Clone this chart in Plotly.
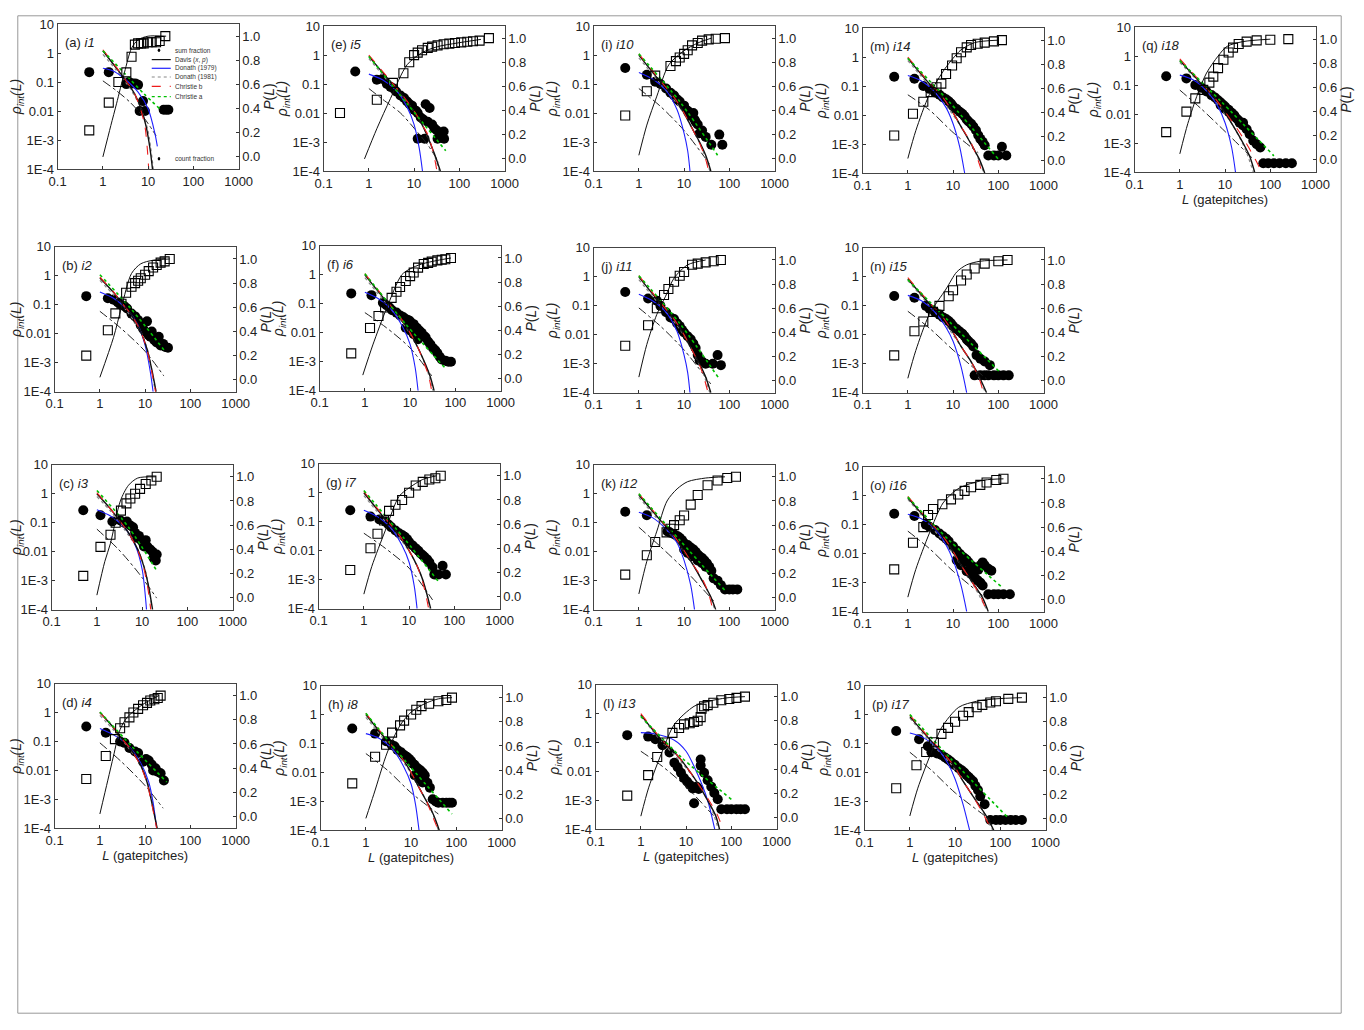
import plotly.graph_objects as go

# page is 1364x1030; the body keeps its default 8px margin, so the figure is 16px smaller
PAGE_W, PAGE_H = 1364, 1030
BODY_MARGIN = 8
FW, FH = PAGE_W - 2 * BODY_MARGIN, PAGE_H - 2 * BODY_MARGIN
# measured relation between page pixels and the photographed picture
SHOT_OX, SHOT_SX = 8.5, 0.983
SHOT_OY, SHOT_SY = 6.0, 0.986

LETTERS = list("abcdefghijklmnopq")
SAMPLES = ["i1", "i2", "i3", "i4", "i5", "i6", "i7", "i8", "i10", "i11", "i12",
           "i13", "i14", "i15", "i16", "i17", "i18"]

X_TICKS = [0.1, 1, 10, 100, 1000]
X_TICKTEXT = ["0.1", "1", "10", "100", "1000"]
Y_TICKS = [1e-4, 1e-3, 0.01, 0.1, 1, 10]
Y_TICKTEXT = ["1E-4", "1E-3", "0.01", "0.1", "1", "10"]
P_TICKS = [0.0, 0.2, 0.4, 0.6, 0.8, 1.0]
P_TICKTEXT = ["0.0", "0.2", "0.4", "0.6", "0.8", "1.0"]

# ---- count fraction (filled circles), left axis ----
COUNT_L = [
    [0.5, 1.35, 3.3, 3.8, 4.5, 5.2, 6, 6.5, 7.7, 8.5, 22, 25, 28],
    [0.5, 1.5, 2, 2.5, 3, 3.5, 4, 5, 6, 7, 8, 9, 10, 11, 12, 13, 14, 16, 18, 20, 22, 25, 28, 32],
    [0.5, 1.2, 2.2, 3.3, 4.0, 4.6, 5.5, 6.3, 7, 7.8, 8.5, 9.5, 10.5, 11, 12, 13, 15, 17, 18, 20, 21],
    [0.5, 1.35, 2.8, 3.5, 4.5, 6, 7, 9, 10.5, 12, 14, 15, 17, 19, 22, 26],
    [0.5, 1.5, 2, 2.5, 3, 3.5, 4, 5, 6, 7, 8, 9, 10, 11, 12, 14, 16, 18, 20, 22, 25, 28, 32, 38, 45, 12, 17, 33, 46],
    [0.5, 1.4, 2.5, 3, 3.5, 4, 5, 6, 7, 8, 9, 10, 11, 12, 13, 14, 16, 18, 20, 22, 25, 28, 32, 36, 40, 45, 50, 60, 70, 80, 8, 10, 12, 15],
    [0.5, 1.4, 2.2, 3, 3.5, 4, 5, 6, 7, 8, 9, 10, 12, 14, 16, 18, 20, 22, 25, 28, 33, 36, 40, 45, 55, 65],
    [0.5, 1.6, 2.8, 3.7, 4.3, 5, 6, 7, 8, 9, 10, 11, 12, 14, 16, 18, 20, 23, 26, 30, 35, 40, 50, 60, 70, 80, 12, 15, 18],
    [0.5, 1.5, 2.3, 3, 4, 5, 6, 7, 8, 10, 12, 14, 16, 18, 20, 22, 25, 30, 40, 60, 70, 13, 17],
    [0.5, 1.6, 2.5, 3, 4, 5, 6, 7, 8, 9, 10, 12, 14, 16, 18, 20, 22, 25, 30, 43, 55, 65],
    [0.5, 1.5, 4.3, 5, 6, 7, 8, 9, 10, 12, 14, 16, 18, 20, 22, 25, 28, 32, 36, 40, 45, 55, 65, 80, 100, 120, 150, 10, 12, 15, 20, 25, 30],
    [0.5, 1.45, 2.1, 3, 4.3, 5.5, 6.5, 7.7, 9, 10.5, 12, 14, 15, 21, 21, 25, 30, 36, 42, 50, 60, 80, 100, 130, 160, 200, 17, 19],
    [0.5, 1.4, 2.2, 3, 4, 5, 6, 7, 8, 9, 10, 12, 14, 16, 18, 20, 22, 25, 28, 32, 36, 40, 45, 50, 60, 80, 100, 120, 150],
    [0.5, 1.4, 2.5, 3, 4, 5, 6, 7, 8, 9, 10, 12, 14, 16, 18, 20, 22, 25, 28, 33, 40, 50, 65, 30, 40, 50, 60, 80, 100, 130, 170],
    [0.5, 1.4, 2.5, 3, 4, 5, 6, 7, 8, 10, 12, 14, 16, 18, 20, 22, 25, 28, 32, 36, 40, 45, 50, 60, 70, 12, 15, 20, 25, 30, 35, 40, 45, 60, 80, 100, 130, 180],
    [0.5, 1.6, 2.5, 3, 4, 5, 6, 7, 8, 9, 10, 12, 14, 16, 18, 20, 22, 25, 28, 32, 36, 45, 60, 80, 100, 130, 170, 220, 300],
    [0.5, 1.4, 2.2, 3, 3.9, 5, 6, 7, 8, 9, 10, 12, 14, 16, 18, 21, 25, 30, 35, 42, 50, 60, 70, 90, 120, 160, 220, 300, 8, 10, 12, 15, 20, 25],
]
COUNT_P = [
    [0.22, 0.22, 0.085, 0.1, 0.09, 0.09, 0.08, 0.01, 0.022, 0.01, 0.011, 0.011, 0.011],
    [0.2, 0.17, 0.15, 0.12, 0.1, 0.09, 0.075, 0.05, 0.04, 0.03, 0.02, 0.015, 0.012, 0.027, 0.009, 0.008, 0.012, 0.006, 0.005, 0.008, 0.004, 0.0045, 0.0035, 0.0033],
    [0.27, 0.18, 0.11, 0.12, 0.1, 0.11, 0.08, 0.07, 0.045, 0.03, 0.035, 0.025, 0.02, 0.015, 0.025, 0.015, 0.012, 0.01, 0.006, 0.005, 0.008],
    [0.33, 0.2, 0.1, 0.09, 0.06, 0.045, 0.04, 0.02, 0.025, 0.022, 0.016, 0.01, 0.012, 0.009, 0.008, 0.0045],
    [0.27, 0.14, 0.15, 0.1, 0.08, 0.07, 0.055, 0.04, 0.033, 0.025, 0.02, 0.018, 0.013, 0.012, 0.01, 0.007, 0.006, 0.02, 0.005, 0.015, 0.004, 0.003, 0.0025, 0.0015, 0.0023, 0.0013, 0.0013, 0.0013, 0.0013],
    [0.23, 0.2, 0.11, 0.09, 0.075, 0.06, 0.05, 0.04, 0.035, 0.03, 0.028, 0.025, 0.02, 0.02, 0.016, 0.015, 0.012, 0.01, 0.008, 0.007, 0.005, 0.004, 0.003, 0.0025, 0.002, 0.0015, 0.0012, 0.0011, 0.001, 0.001, 0.015, 0.012, 0.009, 0.006],
    [0.25, 0.15, 0.12, 0.1, 0.08, 0.065, 0.05, 0.04, 0.035, 0.03, 0.025, 0.02, 0.015, 0.012, 0.01, 0.008, 0.007, 0.006, 0.005, 0.004, 0.0027, 0.0015, 0.0015, 0.0015, 0.003, 0.0015],
    [0.33, 0.22, 0.12, 0.09, 0.08, 0.06, 0.05, 0.04, 0.035, 0.03, 0.025, 0.02, 0.018, 0.014, 0.012, 0.01, 0.008, 0.0044, 0.003, 0.0012, 0.001, 0.0009, 0.0009, 0.0009, 0.0009, 0.0009, 0.008, 0.006, 0.0045],
    [0.36, 0.21, 0.12, 0.1, 0.07, 0.05, 0.04, 0.03, 0.025, 0.018, 0.012, 0.008, 0.01, 0.005, 0.004, 0.002, 0.0025, 0.0015, 0.0008, 0.0018, 0.0008, 0.01, 0.006],
    [0.3, 0.18, 0.15, 0.1, 0.06, 0.04, 0.035, 0.025, 0.02, 0.015, 0.012, 0.009, 0.007, 0.005, 0.0035, 0.002, 0.0013, 0.0012, 0.001, 0.001, 0.002, 0.0009],
    [0.24, 0.18, 0.05, 0.045, 0.04, 0.035, 0.03, 0.025, 0.02, 0.017, 0.014, 0.012, 0.01, 0.008, 0.007, 0.006, 0.005, 0.004, 0.003, 0.0022, 0.0012, 0.001, 0.0007, 0.0005, 0.0005, 0.0005, 0.0005, 0.012, 0.009, 0.007, 0.005, 0.004, 0.003],
    [0.18, 0.16, 0.13, 0.08, 0.045, 0.02, 0.014, 0.009, 0.006, 0.0045, 0.0035, 0.0026, 0.0008, 0.026, 0.016, 0.009, 0.005, 0.003, 0.0018, 0.0011, 0.0005, 0.0005, 0.0005, 0.0005, 0.0005, 0.0005, 0.003, 0.0025],
    [0.21, 0.18, 0.1, 0.08, 0.06, 0.05, 0.04, 0.035, 0.03, 0.025, 0.02, 0.016, 0.013, 0.011, 0.009, 0.007, 0.006, 0.005, 0.004, 0.003, 0.002, 0.0015, 0.0012, 0.0009, 0.0004, 0.0004, 0.0004, 0.0008, 0.0004],
    [0.22, 0.19, 0.1, 0.08, 0.06, 0.05, 0.04, 0.035, 0.03, 0.025, 0.02, 0.016, 0.013, 0.011, 0.009, 0.007, 0.006, 0.005, 0.004, 0.002, 0.0015, 0.0012, 0.0009, 0.0004, 0.0004, 0.0004, 0.0004, 0.0004, 0.0004, 0.0004, 0.0004],
    [0.24, 0.2, 0.1, 0.085, 0.065, 0.05, 0.04, 0.033, 0.027, 0.018, 0.013, 0.01, 0.008, 0.007, 0.006, 0.005, 0.004, 0.0035, 0.003, 0.0028, 0.004, 0.005, 0.004, 0.003, 0.0026, 0.006, 0.004, 0.0025, 0.002, 0.0015, 0.0012, 0.001, 0.0008, 0.0004, 0.0004, 0.0004, 0.0004, 0.0004],
    [0.27, 0.14, 0.08, 0.05, 0.045, 0.04, 0.033, 0.028, 0.024, 0.02, 0.018, 0.014, 0.012, 0.01, 0.008, 0.007, 0.006, 0.005, 0.0035, 0.0025, 0.0015, 0.0008, 0.00023, 0.00023, 0.00023, 0.00023, 0.00023, 0.00023, 0.00023],
    [0.2, 0.17, 0.1, 0.08, 0.06, 0.045, 0.037, 0.03, 0.025, 0.021, 0.018, 0.014, 0.011, 0.009, 0.007, 0.005, 0.004, 0.003, 0.002, 0.0012, 0.0009, 0.0007, 0.0002, 0.0002, 0.0002, 0.0002, 0.0002, 0.0002, 0.02, 0.015, 0.012, 0.009, 0.006, 0.005],
]

# ---- sum fraction (open squares), right axis P(L) ----
SUM_L = [
    [0.5, 1.35, 2.2, 3.3, 4.3, 5.1, 6, 7, 8, 10, 12, 15, 18, 24],
    [0.5, 1.5, 2.2, 3, 3.8, 5, 6, 7, 8, 10, 12, 15, 18, 22, 27, 35],
    [0.5, 1.2, 2, 2.6, 3.4, 4.5, 5.5, 7, 9, 12, 16, 21],
    [0.5, 1.35, 2.15, 2.8, 3.5, 4.5, 5.5, 7, 9, 11, 13, 16, 19, 22],
    [0.23, 1.5, 3.4, 5.8, 7.8, 10, 12, 15, 20, 25, 33, 45, 60, 80, 110, 150, 200, 280, 450],
    [0.5, 1.3, 2, 2.8, 3.9, 5, 6, 8, 10, 12, 15, 20, 25, 30, 40, 50, 60, 80],
    [0.5, 1.4, 2, 2.8, 3.6, 5, 7, 10, 14, 20, 28, 38, 50],
    [0.5, 1.6, 2.8, 3.8, 5.7, 7, 10, 13, 17, 25, 40, 60, 80],
    [0.5, 1.5, 2.3, 5, 6.6, 8, 10, 12, 15, 20, 25, 35, 50, 80],
    [0.5, 1.6, 2.5, 3.6, 4.5, 6, 8, 10, 15, 20, 30, 45, 65],
    [0.5, 1.5, 2.3, 4.1, 5, 6, 8, 10, 14, 20, 33, 55, 90, 140],
    [0.5, 1.45, 2.3, 3.4, 5, 7, 9, 12, 15, 18, 21, 22, 25, 30, 40, 60, 90, 130, 200],
    [0.5, 1.3, 2.2, 3.2, 4.3, 5.5, 7, 9.5, 12, 15, 20, 25, 35, 50, 80, 120],
    [0.5, 1.4, 2.2, 3.6, 5, 8, 10, 15, 20, 30, 50, 100, 160],
    [0.5, 1.3, 2.2, 2.8, 3.6, 5.8, 9, 13, 18, 25, 40, 55, 90, 130],
    [0.5, 1.4, 2.3, 3.4, 5, 7, 10, 15, 20, 30, 40, 60, 80, 150, 300],
    [0.5, 1.4, 2.2, 3.3, 4.5, 5.5, 7, 9.2, 12, 15, 20, 30, 50, 100, 250],
]
SUM_P = [
    [0.22, 0.45, 0.62, 0.70, 0.83, 0.93, 0.94, 0.94, 0.94, 0.95, 0.95, 0.95, 0.96, 1.0],
    [0.2, 0.41, 0.55, 0.63, 0.72, 0.77, 0.8, 0.82, 0.84, 0.87, 0.9, 0.93, 0.95, 0.97, 0.98, 1.0],
    [0.18, 0.42, 0.52, 0.62, 0.72, 0.78, 0.82, 0.86, 0.9, 0.94, 0.97, 1.0],
    [0.31, 0.5, 0.64, 0.73, 0.78, 0.82, 0.86, 0.89, 0.92, 0.94, 0.96, 0.97, 0.98, 1.0],
    [0.38, 0.49, 0.63, 0.71, 0.8, 0.86, 0.88, 0.9, 0.92, 0.93, 0.94, 0.95, 0.955, 0.96, 0.965, 0.97, 0.975, 0.98, 1.0],
    [0.21, 0.42, 0.52, 0.59, 0.67, 0.72, 0.76, 0.81, 0.85, 0.88, 0.92, 0.95, 0.96, 0.97, 0.98, 0.985, 0.99, 1.0],
    [0.22, 0.4, 0.52, 0.63, 0.71, 0.76, 0.8, 0.86, 0.92, 0.95, 0.97, 0.98, 1.0],
    [0.29, 0.51, 0.61, 0.71, 0.77, 0.81, 0.86, 0.9, 0.93, 0.95, 0.97, 0.98, 1.0],
    [0.36, 0.56, 0.69, 0.77, 0.81, 0.84, 0.87, 0.9, 0.94, 0.96, 0.98, 0.99, 0.995, 1.0],
    [0.29, 0.46, 0.6, 0.71, 0.76, 0.82, 0.87, 0.9, 0.96, 0.97, 0.98, 0.99, 1.0],
    [0.19, 0.35, 0.46, 0.54, 0.57, 0.6, 0.64, 0.68, 0.77, 0.85, 0.93, 0.97, 0.99, 1.0],
    [0.18, 0.35, 0.5, 0.62, 0.7, 0.74, 0.77, 0.78, 0.79, 0.8, 0.83, 0.9, 0.92, 0.93, 0.95, 0.97, 0.98, 0.99, 1.0],
    [0.21, 0.39, 0.49, 0.57, 0.61, 0.64, 0.72, 0.79, 0.85, 0.9, 0.94, 0.96, 0.97, 0.98, 0.99, 1.0],
    [0.21, 0.41, 0.49, 0.57, 0.62, 0.7, 0.75, 0.83, 0.88, 0.93, 0.97, 0.99, 1.0],
    [0.25, 0.47, 0.6, 0.7, 0.75, 0.79, 0.83, 0.87, 0.9, 0.93, 0.95, 0.97, 0.99, 1.0],
    [0.25, 0.44, 0.55, 0.63, 0.7, 0.75, 0.8, 0.85, 0.88, 0.92, 0.94, 0.96, 0.97, 0.99, 1.0],
    [0.23, 0.4, 0.51, 0.58, 0.64, 0.69, 0.76, 0.83, 0.89, 0.93, 0.96, 0.98, 0.99, 0.995, 1.0],
]

# ---- Davis (x, p) model, left axis ----
DAVIS_L = [
    [1, 2, 3, 5, 7, 9, 11, 12.5],
    [1, 2, 3, 5, 8, 11, 14, 17.5],
    [1, 2, 3, 5, 8, 11, 14, 17],
    [1, 2, 3, 5, 8, 11, 14, 18.5],
    [1, 3, 6, 10, 15, 20, 28, 38],
    [1, 3, 6, 10, 15, 22, 28, 34],
    [1, 3, 6, 10, 15, 20, 25, 30],
    [1, 3, 6, 10, 15, 22, 30, 36, 42],
    [1, 3, 6, 10, 15, 22, 30, 39],
    [1, 3, 6, 10, 15, 22, 30, 39],
    [1, 3, 6, 10, 15, 25, 38, 50],
    [1, 3, 6, 10, 18, 30, 45, 55],
    [1, 3, 6, 10, 15, 25, 38, 50],
    [1, 3, 6, 10, 15, 25, 40, 55],
    [1, 3, 6, 10, 15, 25, 45, 60],
    [1, 3, 6, 10, 15, 25, 50, 72],
    [1, 3, 6, 10, 15, 25, 35, 45],
]
DAVIS_P = [
    [1.2, 0.3, 0.13, 0.04, 0.012, 0.003, 5e-4, 1e-4],
    [0.85, 0.27, 0.12, 0.045, 0.012, 0.003, 6e-4, 1e-4],
    [1.0, 0.3, 0.13, 0.045, 0.012, 0.003, 6e-4, 1e-4],
    [1.0, 0.3, 0.13, 0.05, 0.015, 0.004, 8e-4, 1e-4],
    [0.9, 0.12, 0.035, 0.011, 0.004, 0.0015, 4e-4, 1e-4],
    [1.0, 0.12, 0.035, 0.01, 0.003, 8e-4, 3e-4, 1e-4],
    [1.0, 0.12, 0.035, 0.01, 0.003, 0.001, 3e-4, 1e-4],
    [1.0, 0.12, 0.035, 0.01, 0.003, 0.001, 4e-4, 2e-4, 1e-4],
    [1.0, 0.12, 0.035, 0.01, 0.003, 0.001, 3.5e-4, 1e-4],
    [1.0, 0.12, 0.035, 0.01, 0.003, 0.001, 3.5e-4, 1e-4],
    [0.9, 0.12, 0.035, 0.01, 0.004, 0.001, 3e-4, 1e-4],
    [0.9, 0.11, 0.04, 0.015, 0.004, 0.001, 3e-4, 1e-4],
    [0.9, 0.12, 0.04, 0.012, 0.004, 0.001, 3e-4, 1e-4],
    [0.85, 0.12, 0.04, 0.012, 0.004, 0.0012, 3e-4, 1e-4],
    [0.85, 0.12, 0.04, 0.012, 0.004, 0.0012, 3e-4, 1e-4],
    [0.85, 0.12, 0.04, 0.015, 0.005, 0.0015, 3e-4, 1e-4],
    [0.7, 0.11, 0.035, 0.011, 0.004, 0.001, 3.5e-4, 1e-4],
]

# ---- Christie b model (red dashed), left axis ----
CHRB_L = [
    [1, 2, 3, 5, 7, 8.5, 9.5, 10.3],
    [1, 2, 3, 5, 8, 11, 14, 17],
    [1, 2, 3, 5, 8, 11, 13.5, 15.5],
    [1, 2, 3, 5, 8, 11, 14, 18],
    [1, 3, 6, 10, 15, 20, 26, 32],
    [1, 3, 6, 10, 15, 20, 26, 30],
    [1, 3, 6, 10, 15, 20, 24, 27],
    [1, 3, 6, 10, 15, 22, 30, 40],
    [1, 3, 6, 10, 15, 22, 29, 35],
    [1, 3, 6, 10, 15, 22, 28, 34],
    [1, 3, 6, 10, 15, 25, 35, 43],
    [1, 3, 6, 10, 18, 30, 50, 65],
    [1, 3, 6, 10, 15, 25, 35, 44],
    [1, 3, 6, 10, 15, 25, 38, 47],
    [1, 3, 6, 10, 15, 25, 42, 55],
    [1, 3, 6, 10, 15, 25, 45, 65],
    [1, 3, 6, 10, 15, 25, 45, 65],
]
CHRB_P = [
    [1.3, 0.32, 0.13, 0.04, 0.01, 0.003, 6e-4, 1e-4],
    [0.9, 0.28, 0.12, 0.045, 0.012, 0.0028, 5e-4, 1e-4],
    [1.1, 0.3, 0.13, 0.045, 0.011, 0.0025, 5e-4, 1e-4],
    [1.0, 0.3, 0.13, 0.05, 0.014, 0.0037, 7e-4, 1e-4],
    [1.0, 0.13, 0.035, 0.012, 0.004, 0.0018, 5e-4, 1e-4],
    [1.1, 0.13, 0.035, 0.01, 0.003, 0.001, 3e-4, 1e-4],
    [1.1, 0.13, 0.035, 0.01, 0.003, 8e-4, 2.5e-4, 1e-4],
    [1.1, 0.13, 0.035, 0.01, 0.003, 0.001, 3e-4, 1e-4],
    [1.1, 0.13, 0.035, 0.01, 0.003, 9e-4, 3e-4, 1e-4],
    [1.1, 0.13, 0.035, 0.01, 0.003, 9e-4, 3e-4, 1e-4],
    [1.0, 0.13, 0.035, 0.011, 0.004, 0.0012, 3.5e-4, 1e-4],
    [1.0, 0.12, 0.04, 0.015, 0.004, 0.0012, 3e-4, 1e-4],
    [1.0, 0.13, 0.04, 0.012, 0.004, 0.0011, 3e-4, 1e-4],
    [0.95, 0.13, 0.04, 0.012, 0.004, 0.0012, 3e-4, 1e-4],
    [0.95, 0.13, 0.04, 0.012, 0.004, 0.0012, 3e-4, 1e-4],
    [0.95, 0.13, 0.04, 0.015, 0.005, 0.0015, 3e-4, 1e-4],
    [0.8, 0.12, 0.035, 0.012, 0.005, 0.0015, 3e-4, 1e-4],
]

# ---- Donath (1979) model (blue), left axis ----
DON79_L = [
    [1, 1.6, 3, 6, 10, 14, 16],
    [1, 2, 4, 7, 10, 13, 15],
    [1, 2, 4, 7, 10, 12.5],
    [1, 2, 4, 8, 12, 15, 18],
    [1, 2, 4, 7, 10, 13, 15.3],
    [1, 2, 4, 7, 10, 13, 15],
    [1, 2, 4, 7, 10, 13, 15],
    [1, 2, 4, 7, 10, 12.5, 15],
    [1, 2, 4, 7, 10, 12, 13.5],
    [1, 2, 4, 7, 10, 12, 13.5],
    [1, 2, 4, 7, 10, 14, 17],
    [1, 2, 5.5, 10, 18, 30, 43],
    [1, 2, 4, 7, 10, 14, 18],
    [1, 2, 4, 7, 10, 15, 20],
    [1, 2, 4, 7, 10, 15, 20],
    [1, 2, 4, 7, 10, 15, 21],
    [1, 2, 4, 7, 10, 14, 17],
]
DON79_P = [
    [0.3, 0.25, 0.13, 0.045, 0.012, 0.0018, 6e-4],
    [0.28, 0.17, 0.07, 0.02, 0.004, 5e-4, 1e-4],
    [0.28, 0.17, 0.07, 0.017, 0.0025, 1e-4],
    [0.28, 0.17, 0.08, 0.018, 0.004, 8e-4, 1e-4],
    [0.22, 0.14, 0.06, 0.016, 0.004, 6e-4, 1e-4],
    [0.25, 0.15, 0.06, 0.015, 0.004, 6e-4, 1e-4],
    [0.25, 0.15, 0.06, 0.015, 0.004, 6e-4, 1e-4],
    [0.22, 0.15, 0.06, 0.015, 0.004, 8e-4, 1e-4],
    [0.25, 0.15, 0.06, 0.013, 0.002, 5e-4, 1e-4],
    [0.25, 0.15, 0.06, 0.013, 0.002, 5e-4, 1e-4],
    [0.23, 0.15, 0.06, 0.02, 0.005, 7e-4, 1e-4],
    [0.22, 0.2, 0.12, 0.05, 0.008, 0.001, 1e-4],
    [0.23, 0.15, 0.06, 0.018, 0.005, 8e-4, 1e-4],
    [0.23, 0.15, 0.06, 0.018, 0.006, 8e-4, 1e-4],
    [0.23, 0.16, 0.07, 0.02, 0.006, 8e-4, 1e-4],
    [0.23, 0.16, 0.07, 0.02, 0.006, 8e-4, 1e-4],
    [0.22, 0.15, 0.06, 0.018, 0.005, 7e-4, 1e-4],
]

# ---- Donath (1981) model (gray dotted), left axis ----
DON81_L = [
    [1, 2, 4, 7, 10, 13],
    [1, 2, 4, 8, 12, 16],
    [1, 2, 4, 8, 12, 16],
    [1, 2, 4, 8, 12, 17],
    [1, 3, 8, 15, 25, 36],
    [1, 3, 8, 15, 24, 32],
    [1, 3, 8, 15, 22, 29],
    [1, 3, 8, 15, 28, 40],
    [1, 3, 8, 15, 26, 37],
    [1, 3, 8, 15, 26, 37],
    [1, 3, 8, 15, 30, 48],
    [1, 3, 8, 18, 35, 52],
    [1, 3, 8, 15, 30, 48],
    [1, 3, 8, 15, 30, 52],
    [1, 3, 8, 15, 30, 58],
    [1, 3, 8, 15, 35, 68],
    [1, 3, 8, 15, 28, 42],
]
DON81_P = [
    [0.9, 0.25, 0.06, 0.012, 0.002, 1e-4],
    [0.7, 0.22, 0.06, 0.012, 0.002, 1.5e-4],
    [0.8, 0.25, 0.06, 0.012, 0.002, 1.5e-4],
    [0.8, 0.25, 0.07, 0.015, 0.003, 2e-4],
    [0.75, 0.1, 0.018, 0.004, 6e-4, 1e-4],
    [0.8, 0.1, 0.016, 0.003, 5e-4, 1e-4],
    [0.8, 0.1, 0.016, 0.003, 6e-4, 1e-4],
    [0.8, 0.1, 0.016, 0.003, 5e-4, 1e-4],
    [0.8, 0.1, 0.016, 0.003, 5e-4, 1e-4],
    [0.8, 0.1, 0.016, 0.003, 5e-4, 1e-4],
    [0.75, 0.1, 0.016, 0.004, 6e-4, 1e-4],
    [0.8, 0.1, 0.02, 0.004, 6e-4, 1e-4],
    [0.75, 0.1, 0.016, 0.004, 6e-4, 1e-4],
    [0.75, 0.1, 0.016, 0.004, 7e-4, 1e-4],
    [0.75, 0.1, 0.016, 0.004, 7e-4, 1e-4],
    [0.75, 0.1, 0.02, 0.005, 7e-4, 1e-4],
    [0.6, 0.1, 0.016, 0.004, 6e-4, 1e-4],
]

# ---- Christie a model (green dotted), left axis ----
CHRA_L = [
    [1, 3, 8, 18], [1, 5, 26], [1, 5, 21], [1, 5, 30], [1, 7, 50], [1, 8, 60],
    [1, 8, 46], [1, 8, 80], [1, 8, 55], [1, 8, 60], [1, 8, 80], [1, 8, 100],
    [1, 8, 100], [1, 8, 110], [1, 8, 120], [1, 8, 140], [1, 8, 120],
]
CHRA_P = [
    [1.2, 0.2, 0.04, 0.012], [1.1, 0.07, 0.0028], [1.3, 0.07, 0.0022], [1.05, 0.07, 0.004],
    [0.9, 0.021, 5e-4], [1.1, 0.02, 6e-4], [1.2, 0.025, 8e-4], [1.1, 0.022, 3.7e-4],
    [1.1, 0.025, 3.5e-4], [1.1, 0.025, 3e-4], [1.0, 0.025, 4.6e-4], [0.8, 0.03, 0.0011],
    [0.9, 0.03, 3e-4], [0.8, 0.03, 5e-4], [0.9, 0.03, 7e-4], [1.0, 0.03, 3e-4], [0.7, 0.028, 3.6e-4],
]

# ---- dash-dot model, left axis ----
DASHDOT_L = [
    [1, 2, 4, 8, 15], [1, 3, 10, 26], [1, 3, 8, 21], [1, 3, 10, 25], [1, 2, 5, 10, 20, 35],
    [1, 3, 10, 30], [1, 3, 10, 33], [1, 3, 10, 40], [1, 3, 10, 36], [1, 3, 10, 39],
    [1, 3, 10, 45], [1, 3, 10, 40], [1, 3, 10, 36], [1, 3, 10, 55], [1, 3, 10, 60],
    [1, 3, 10, 63], [1, 3, 10, 42],
]
DASHDOT_P = [
    [0.11, 0.05, 0.02, 0.006, 0.0014], [0.06, 0.015, 0.0025, 3.5e-4], [0.06, 0.012, 0.002, 2.5e-4],
    [0.09, 0.02, 0.003, 5e-4], [0.07, 0.03, 0.01, 0.003, 8e-4, 2e-4], [0.05, 0.015, 0.003, 3.3e-4],
    [0.04, 0.012, 0.0025, 2e-4], [0.045, 0.012, 0.002, 3.7e-4], [0.07, 0.017, 0.0025, 1.8e-4],
    [0.085, 0.02, 0.003, 2e-4], [0.07, 0.015, 0.0025, 2e-4], [0.05, 0.015, 0.003, 3e-4],
    [0.05, 0.015, 0.0025, 5e-4], [0.065, 0.017, 0.003, 3e-4], [0.06, 0.015, 0.0025, 2.5e-4],
    [0.05, 0.012, 0.002, 2.2e-4], [0.067, 0.015, 0.0025, 2.8e-4],
]

# ---- cumulative Davis model, right axis ----
CUM_L = [
    [1, 1.5, 2, 3, 4.3, 6, 10, 25],
    [1, 2, 3, 5, 8, 15, 35],
    [1, 1.5, 2, 3.3, 5, 8, 20],
    [1, 1.5, 2, 2.8, 4, 6, 10, 20],
    [0.8, 1.5, 3, 7, 15, 33, 90, 300],
    [0.9, 1.5, 3, 6.5, 10, 18, 40, 80],
    [1, 1.5, 3, 6, 10, 20, 40],
    [1, 1.5, 3, 5.7, 10, 20, 40, 80],
    [1, 1.5, 2.5, 4.6, 9.5, 20, 40],
    [1, 1.5, 2.5, 3.9, 6, 12, 30],
    [1, 1.5, 2.5, 4.2, 7, 12, 30, 80],
    [1, 1.5, 3, 5.5, 15, 30, 80, 200],
    [1, 1.5, 3, 6.5, 10, 15, 30, 100],
    [1, 1.5, 3, 7, 12, 20, 40, 160],
    [1, 1.5, 3, 6, 12, 20, 50, 130],
    [1, 1.5, 3, 5, 12, 30, 80, 300],
    [1, 1.5, 2.5, 3.9, 7, 11, 25, 100],
]
CUM_P = [
    [0.0, 0.26, 0.44, 0.70, 0.90, 0.97, 1.0, 1.0],
    [0.02, 0.35, 0.6, 0.88, 0.96, 0.99, 1.0],
    [0.02, 0.3, 0.45, 0.8, 0.93, 0.99, 1.0],
    [0.02, 0.3, 0.5, 0.72, 0.82, 0.88, 0.94, 1.0],
    [0.0, 0.25, 0.5, 0.78, 0.88, 0.93, 0.96, 0.99],
    [0.03, 0.28, 0.58, 0.86, 0.91, 0.95, 0.98, 1.0],
    [0.02, 0.25, 0.55, 0.83, 0.9, 0.97, 1.0],
    [0.0, 0.2, 0.55, 0.77, 0.88, 0.95, 0.99, 1.0],
    [0.03, 0.28, 0.52, 0.78, 0.89, 0.96, 1.0],
    [0.03, 0.3, 0.55, 0.7, 0.85, 0.96, 1.0],
    [0.03, 0.3, 0.55, 0.8, 0.9, 0.96, 0.99, 1.0],
    [0.01, 0.25, 0.55, 0.77, 0.92, 0.96, 0.99, 1.0],
    [0.02, 0.25, 0.55, 0.76, 0.85, 0.92, 0.98, 1.0],
    [0.02, 0.25, 0.55, 0.76, 0.9, 0.96, 0.99, 1.0],
    [0.02, 0.25, 0.55, 0.8, 0.91, 0.95, 0.99, 1.0],
    [0.02, 0.25, 0.55, 0.75, 0.92, 0.97, 0.99, 1.0],
    [0.05, 0.3, 0.55, 0.72, 0.86, 0.94, 0.98, 1.0],
]

# ---- layout: plot-area boxes in picture pixels (left, top) ----
BOX_LEFT = [57, 54, 51, 54, 323, 319, 318, 320, 593, 593, 593, 595, 862, 862, 862, 864, 1134]
BOX_TOP = [23, 246, 464, 683, 25, 245, 463, 685, 25, 247, 464, 684, 27, 247, 466, 685, 26]
BOX_W, BOX_H = 181, 145
BOTTOM_PANELS = {"d", "h", "l", "p", "q"}

FONT = "Liberation Sans, Arial, sans-serif"
INK = "#222222"


def px_x(px):
    page = (px - SHOT_OX) / SHOT_SX
    return min(max((page - BODY_MARGIN) / FW, 0.0), 1.0)


def px_y(py):
    page = (py - SHOT_OY) / SHOT_SY
    return min(max(1 - (page - BODY_MARGIN) / FH, 0.0), 1.0)


fig = go.Figure()
n = len(LETTERS)
layout = {}

for k in range(n):
    i = k + 1
    xa = "x" if i == 1 else f"x{i}"
    ya = "y" if i == 1 else f"y{i}"
    yr = f"y{n + i}"

    fig.add_trace(go.Scatter(x=COUNT_L[k], y=COUNT_P[k], xaxis=xa, yaxis=ya, mode="markers",
                             marker=dict(symbol="circle", size=10, color="black"),
                             showlegend=False, hoverinfo="skip"))
    curves = [
        (DASHDOT_L[k], DASHDOT_P[k], "#222222", "dashdot", 1.0),
        (DON81_L[k], DON81_P[k], "#888888", "dot", 1.2),
        (DON79_L[k], DON79_P[k], "#2020ff", "solid", 1.1),
        (DAVIS_L[k], DAVIS_P[k], "#111111", "solid", 1.4),
        (CHRB_L[k], CHRB_P[k], "#ee1c1c", "dash", 1.1),
        (CHRA_L[k], CHRA_P[k], "#00c000", "dot", 1.6),
    ]
    for lx, ly, col, dash, wd in curves:
        fig.add_trace(go.Scatter(x=lx, y=ly, xaxis=xa, yaxis=ya, mode="lines",
                                 line=dict(color=col, dash=dash, width=wd, shape="spline", smoothing=0.8),
                                 showlegend=False, hoverinfo="skip"))
    fig.add_trace(go.Scatter(x=CUM_L[k], y=CUM_P[k], xaxis=xa, yaxis=yr, mode="lines",
                             line=dict(color="#111111", width=1, shape="spline", smoothing=0.8),
                             showlegend=False, hoverinfo="skip"))
    fig.add_trace(go.Scatter(x=SUM_L[k], y=SUM_P[k], xaxis=xa, yaxis=yr, mode="markers",
                             marker=dict(symbol="square-open", size=9, color="black", line=dict(width=1.1)),
                             showlegend=False, hoverinfo="skip"))

    x0 = px_x(BOX_LEFT[k])
    x1 = px_x(BOX_LEFT[k] + BOX_W)
    y1 = px_y(BOX_TOP[k])
    y0 = px_y(BOX_TOP[k] + BOX_H)
    xkey = "xaxis" if i == 1 else f"xaxis{i}"
    ykey = "yaxis" if i == 1 else f"yaxis{i}"
    rkey = f"yaxis{n + i}"
    common = dict(showgrid=False, zeroline=False, ticks="inside", ticklen=3, tickcolor="#333",
                  showline=True, linecolor="#444", linewidth=1,
                  tickfont=dict(size=13, color=INK, family=FONT))
    xdef = dict(common, type="log", range=[-1, 3], domain=[x0, x1], anchor=ya,
                tickvals=X_TICKS, ticktext=X_TICKTEXT, mirror=True)
    if LETTERS[k] in BOTTOM_PANELS:
        xdef["title"] = dict(text="<i>L</i> (gatepitches)", standoff=2,
                             font=dict(size=13, color=INK, family=FONT))
    layout[xkey] = xdef
    layout[ykey] = dict(common, type="log", range=[-4, 1], domain=[y0, y1], anchor=xa,
                        tickvals=Y_TICKS, ticktext=Y_TICKTEXT, mirror=True,
                        title=dict(text="<i>ρ<sub>int</sub>(L)</i>", standoff=1,
                                   font=dict(size=14, color=INK, family=FONT)))
    layout[rkey] = dict(common, overlaying=ya, side="right", anchor=xa, range=[-0.1, 1.1],
                        tickvals=P_TICKS, ticktext=P_TICKTEXT,
                        title=dict(text="<i>P</i>(<i>L</i>)", standoff=4,
                                   font=dict(size=14, color=INK, family=FONT)))

annotations = []
for k in range(n):
    i = k + 1
    annotations.append(dict(text=f"({LETTERS[k]}) <i>{SAMPLES[k]}</i>",
                            xref=("x" if i == 1 else f"x{i}") + " domain",
                            yref=("y" if i == 1 else f"y{i}") + " domain",
                            x=0.03, y=0.87, xanchor="left", yanchor="middle", showarrow=False,
                            font=dict(size=13, color=INK, family=FONT)))

# legend inside panel (a)
LEGEND_LABELS = ["sum fraction", "Davis (<i>x</i>, <i>p</i>)", "Donath (1979)", "Donath (1981)",
                 "Christie b", "Christie a"]
LEGEND_STYLES = [None, ("#111111", "solid"), ("#2020ff", "solid"), ("#888888", "dot"),
                 ("#ee1c1c", "dash"), ("#00c000", "dot")]
LEGEND_ROWS = [0.82, 0.755, 0.695, 0.635, 0.57, 0.50]
shapes = []
for lab, sty, yy in zip(LEGEND_LABELS, LEGEND_STYLES, LEGEND_ROWS):
    annotations.append(dict(text=lab, xref="x domain", yref="y domain", x=0.64, y=yy,
                            xanchor="left", yanchor="middle", showarrow=False,
                            font=dict(size=6.5, color="#333", family=FONT)))
    if sty is None:
        shapes.append(dict(type="circle", xref="x domain", yref="y domain",
                           x0=0.553, x1=0.567, y0=yy - 0.012, y1=yy + 0.012,
                           fillcolor="black", line=dict(width=0)))
    else:
        shapes.append(dict(type="line", xref="x domain", yref="y domain",
                           x0=0.52, x1=0.625, y0=yy, y1=yy,
                           line=dict(color=sty[0], dash=sty[1], width=1.2)))
annotations.append(dict(text="count fraction", xref="x domain", yref="y domain", x=0.64, y=0.07,
                        xanchor="left", yanchor="middle", showarrow=False,
                        font=dict(size=6.5, color="#333", family=FONT)))
shapes.append(dict(type="circle", xref="x domain", yref="y domain",
                   x0=0.553, x1=0.567, y0=0.058, y1=0.082, fillcolor="black", line=dict(width=0)))

# outer frame of the page
shapes.append(dict(type="rect", xref="paper", yref="paper", x0=0.0006, x1=0.9994,
                   y0=0.0008, y1=0.9992, line=dict(color="#999", width=1)))

fig.update_layout(**layout)
fig.update_layout(width=FW, height=FH, autosize=False, margin=dict(l=0, r=0, t=0, b=0),
                  paper_bgcolor="white", plot_bgcolor="white", showlegend=False,
                  annotations=annotations, shapes=shapes,
                  font=dict(family=FONT, color=INK))
fig.write_html("out.html")
